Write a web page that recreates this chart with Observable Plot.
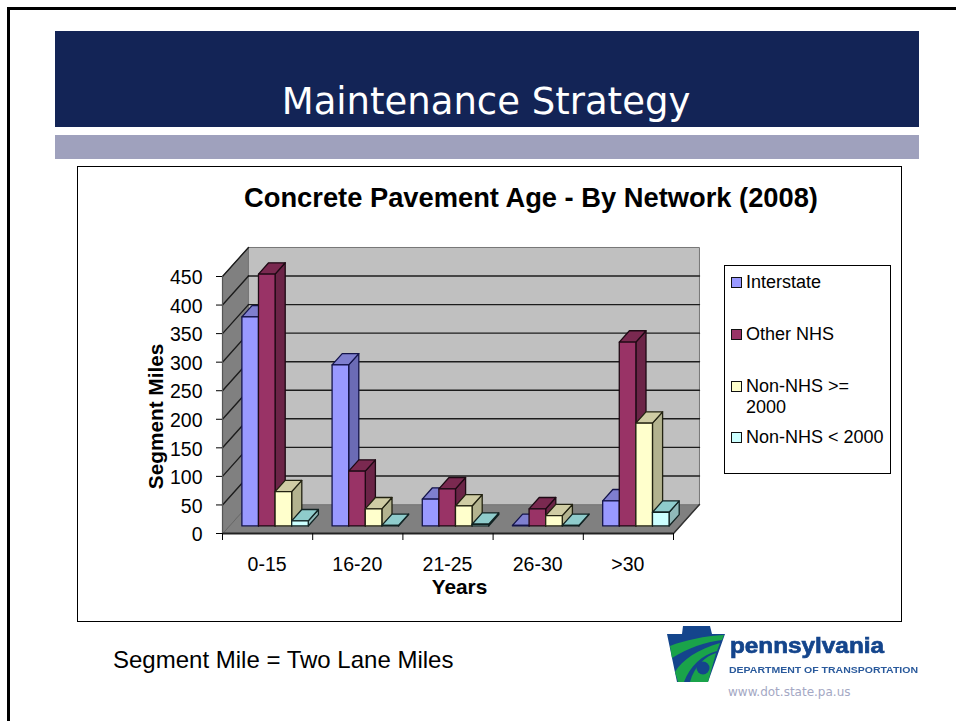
<!DOCTYPE html>
<html>
<head>
<meta charset="utf-8">
<script src="https://cdn.jsdelivr.net/npm/d3@7"></script>
<script src="https://cdn.jsdelivr.net/npm/@observablehq/plot@0.6"></script>
<style>
html,body{margin:0;padding:0;background:#fff;width:956px;height:721px;overflow:hidden;font-family:"Liberation Sans",Arial,sans-serif;}
.abs{position:absolute;}
#frame{left:7px;top:7px;width:960px;height:730px;border-left:3px solid #000;border-top:3px solid #000;box-sizing:border-box;}
#banner{left:54px;top:31px;width:864px;height:96px;color:#fff;font:37px "DejaVu Sans",sans-serif;text-align:center;}
#bannerbg{left:55px;top:31px;width:864px;height:96px;background:#132456;}
#banner span{position:absolute;left:0;right:0;top:49px;line-height:44px;}
#band{left:55px;top:135px;width:864px;height:24px;background:#9fa1bd;}
#box{left:77px;top:166px;width:825px;height:456px;border:1px solid #000;box-sizing:border-box;background:#fff;}
#chart{left:78px;top:167px;}
#ctitle{left:78px;top:182px;width:906px;text-align:center;font-weight:bold;font-size:27.3px;line-height:32px;white-space:nowrap;}
#legend{left:724px;top:265px;width:167px;height:209px;border:1px solid #000;box-sizing:border-box;background:#fff;font-size:18px;line-height:21px;}
.item{position:absolute;left:21px;}
.sw{position:absolute;left:-15px;top:5px;width:9px;height:9px;border:1px solid #111;}
#note{left:113px;top:645px;font-size:24px;line-height:30px;white-space:nowrap;}
#logo{left:660px;top:622px;filter:blur(0.4px);}
#url{left:728px;top:685px;font:12px "DejaVu Sans",sans-serif;color:#a4a8c4;white-space:nowrap;}
</style>
</head>
<body>
<div class="abs" id="frame"></div>
<div class="abs" id="bannerbg"></div>
<div class="abs" id="banner"><span>Maintenance Strategy</span></div>
<div class="abs" id="band"></div>
<div class="abs" id="box"></div>
<div class="abs" id="chart"></div>
<div class="abs" id="ctitle">Concrete Pavement Age - By Network (2008)</div>
<div class="abs" id="legend"></div>
<div class="abs" id="note">Segment Mile = Two Lane Miles</div>
<svg class="abs" id="logo" width="270" height="70" viewBox="0 0 270 70">
  <polygon points="7,12 22,12 23,4 50,4 52,12 65,12 48,60 17,60" fill="#14458c"/>
  <path d="M10,24 C25,18 45,14 64,13 L62,18 C45,20 28,26 12,36 Z" fill="#1aa34a"/>
  <path d="M15,50 C22,38 38,27 60,21 L57,29 C42,33 30,44 24,60 L18,60 Z" fill="#1aa34a"/>
  <path d="M30,60 C34,44 46,34 56,31 L48,60 Z" fill="#1aa34a"/>
  <circle cx="43" cy="46" r="6.5" fill="#14458c"/>
  <text x="70" y="31" font-family="Liberation Sans" font-weight="bold" font-size="22" fill="#14458c" stroke="#14458c" stroke-width="0.7" textLength="154" lengthAdjust="spacingAndGlyphs">pennsylvania</text>
  <text x="69" y="51" font-family="Liberation Sans" font-weight="bold" font-size="9" fill="#2a5a9c" textLength="189" lengthAdjust="spacingAndGlyphs">DEPARTMENT OF TRANSPORTATION</text>
</svg>
<div class="abs" id="url">www.dot.state.pa.us</div>
<script>
const categories = ["0-15", "16-20", "21-25", "26-30", ">30"];
const seriesNames = ["Interstate", "Other NHS", "Non-NHS >= 2000", "Non-NHS < 2000"];
const interstate = [366, 282, 47, 1, 44];
const otherNHS = [441, 96, 65, 30, 322];
const nonNHSHigh = [60, 30, 35, 18, 180];
const nonNHSLow = [9, 1, 3, 1, 24];
const yTicks = [0, 50, 100, 150, 200, 250, 300, 350, 400, 450];

const series = [interstate, otherNHS, nonNHSHigh, nonNHSLow];
const faces = [
  {front: "#9999ff", side: "#6b6bb5", top: "#7f7fcf", edge: "#14144a"},
  {front: "#993366", side: "#6b2447", top: "#7a2950", edge: "#1e0a14"},
  {front: "#ffffcc", side: "#b3b38f", top: "#cfcca4", edge: "#222211"},
  {front: "#ccffff", side: "#8fb8b8", top: "#8fcccc", edge: "#112222"}
];

// oblique projection: depth d (0 front, 1 back) shifts a point in data units
const DX = 0.288, DY = 50.8;
const pt = (x, v, d) => [x + d * DX, v + d * DY];
const polys = [];
function poly(id, pts, fill, stroke) {
  pts.forEach(([x, y]) => polys.push({id, x, y, fill, stroke}));
}
const N = categories.length, TOP = 450;
poly("floor", [pt(0,0,0), pt(N,0,0), pt(N,0,1), pt(0,0,1)], "#808080", "#666");
poly("left", [pt(0,0,0), pt(0,TOP,0), pt(0,TOP,1), pt(0,0,1)], "#808080", "#666");
poly("back", [pt(0,0,1), pt(0,TOP,1), pt(N,TOP,1), pt(N,0,1)], "#c0c0c0", "#777");

const barPolys = [];
const D0 = 0.26, D1 = 0.65, OFF = 0.14, W = 0.184;
categories.forEach((c, i) => {
  series.forEach((s, k) => {
    const a = i + OFF + k * W, b = a + W, v = s[i], f = faces[k], id = `${i}-${k}`;
    const add = (tag, pts, fill) => pts.forEach(([x, y]) => barPolys.push({id: id + tag, x, y, fill, stroke: f.edge}));
    add("s", [pt(b,0,D0), pt(b,v,D0), pt(b,v,D1), pt(b,0,D1)], f.side);
    add("t", [pt(a,v,D0), pt(b,v,D0), pt(b,v,D1), pt(a,v,D1)], f.top);
    add("f", [pt(a,0,D0), pt(b,0,D0), pt(b,v,D0), pt(a,v,D0)], f.front);
  });
});

const gridLeft = yTicks.slice(1).flatMap(v => [
  {id: v, x: pt(0,v,0)[0], y: pt(0,v,0)[1]},
  {id: v, x: pt(0,v,1)[0], y: pt(0,v,1)[1]}
]);
const gridBack = yTicks.slice(1, -1).flatMap(v => [
  {id: v, x: pt(0,v,1)[0], y: pt(0,v,1)[1]},
  {id: v, x: pt(N,v,1)[0], y: pt(N,v,1)[1]}
]);

const plot = Plot.plot({
  width: 823, height: 454,
  marginLeft: 144, marginRight: 228, marginTop: 109, marginBottom: 88,
  style: {fontFamily: '"Liberation Sans", Arial, sans-serif', fontSize: "19.5px", color: "#000", background: "transparent", overflow: "visible"},
  x: {type: "linear", domain: [0, N], axis: null},
  y: {type: "linear", domain: [0, TOP], axis: null},
  color: {type: "identity"},
  marks: [
    Plot.line(polys, {x: "x", y: "y", z: "id", fill: "fill", stroke: "stroke", strokeWidth: 1, curve: "linear-closed"}),
    Plot.line(gridLeft, {x: "x", y: "y", z: "id", stroke: "#1c1c1c", strokeWidth: 1.4}),
    Plot.line(gridBack, {x: "x", y: "y", z: "id", stroke: "#1c1c1c", strokeWidth: 1.4}),
    Plot.line(barPolys, {x: "x", y: "y", z: "id", fill: "fill", stroke: "stroke", strokeWidth: 1.3, curve: "linear-closed"}),
    Plot.ruleY([0], {x1: 0, x2: N, stroke: "#222", strokeWidth: 2.2}),
    Plot.ruleX([0], {y1: 0, y2: TOP, stroke: "#555", strokeWidth: 1.2}),
    Plot.line([pt(N,0,0), pt(N,0,1)], {x: d => d[0], y: d => d[1], stroke: "#333"}),
    Plot.axisY({ticks: yTicks, tickSize: 6, label: null, tickFormat: () => ""}),
    Plot.axisY({ticks: yTicks, tickSize: 0, tickPadding: 20, dy: 1.5, fontSize: 19.5, label: null, tickFormat: d => d}),
    Plot.axisX({ticks: d3.range(0, N + 1), tickSize: 7, label: null, tickFormat: () => ""}),
    Plot.text(categories, {x: (d, i) => i + 0.5, frameAnchor: "bottom", dy: 37, dx: -0.5, textAnchor: "middle", fontSize: 19.5}),
    Plot.text(["Years"], {x: 2.627, frameAnchor: "bottom", dy: 60, fontWeight: "bold", fontSize: 20.8}),
    Plot.text(["Segment Miles"], {x: -0.73, y: 205, rotate: -90, fontWeight: "bold", fontSize: 20.8})
  ]
});
document.getElementById("chart").appendChild(plot);

const legend = document.getElementById("legend");
const legendTops = [6, 58, 110, 161];
seriesNames.forEach((name, i) => {
  const el = document.createElement("div");
  el.className = "item";
  el.style.top = legendTops[i] + "px";
  el.style.width = "145px";
  el.textContent = name;
  const sw = document.createElement("div");
  sw.className = "sw";
  sw.style.background = faces[i].front;
  el.appendChild(sw);
  legend.appendChild(el);
});
</script>
</body>
</html>
